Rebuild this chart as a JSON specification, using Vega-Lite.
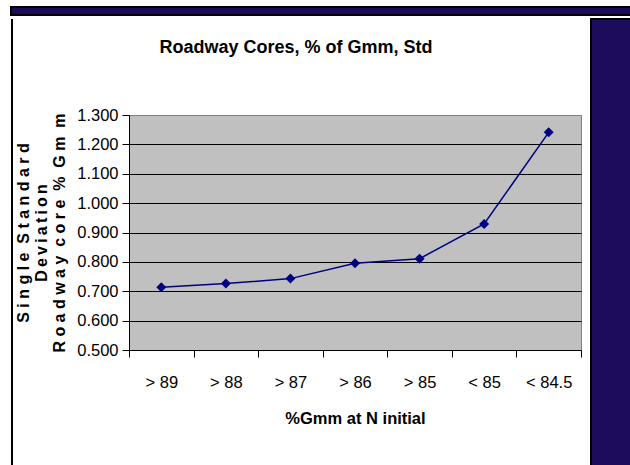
{
  "$schema": "https://vega.github.io/schema/vega-lite/v6.json",
  "background": "white",
  "padding": {"left": 9, "top": 6, "right": 0, "bottom": 0},
  "spacing": 0,
  "config": {
    "font": "Liberation Sans, Arial, sans-serif",
    "view": {"stroke": null}
  },
  "vconcat": [
    {
      "width": 621,
      "height": 8,
      "data": {"values": [{}]},
      "mark": {"type": "point", "opacity": 0},
      "encoding": {},
      "view": {"fill": "#1d0c5c", "stroke": "black", "strokeWidth": 2}
    },
    {
      "spacing": 0,
      "hconcat": [
        {
          "width": 2,
          "height": 449,
          "data": {"values": [{}]},
          "mark": {"type": "point", "opacity": 0},
          "encoding": {},
          "view": {"fill": "black", "stroke": null}
        },
        {
          "spacing": 8,
          "hconcat": [
            {
              "spacing": 15,
              "vconcat": [
                {
                  "width": 1,
                  "height": 1,
                  "data": {"values": [{}]},
                  "mark": {"type": "point", "opacity": 0},
                  "encoding": {},
                  "view": {"fill": null, "stroke": null}
                },
                {
                  "width": 452,
                  "height": 235,
                  "title": {
                    "text": "Roadway Cores, % of Gmm, Std",
                    "fontSize": 18,
                    "fontWeight": "bold",
                    "frame": "group",
                    "anchor": "middle",
                    "dx": -59,
                    "offset": 50,
                    "color": "black"
                  },
                  "view": {"fill": "#c0c0c0", "stroke": "#808080", "strokeWidth": 1},
                  "data": {
                    "values": [
                      {"cat": "> 89", "val": 0.714},
                      {"cat": "> 88", "val": 0.726},
                      {"cat": "> 87", "val": 0.743},
                      {"cat": "> 86", "val": 0.795},
                      {"cat": "> 85", "val": 0.811},
                      {"cat": "< 85", "val": 0.929},
                      {"cat": "< 84.5", "val": 1.241}
                    ]
                  },
                  "mark": {
                    "type": "line",
                    "color": "#000080",
                    "strokeWidth": 1.5,
                    "point": {"shape": "diamond", "size": 100, "filled": true, "color": "#000080"}
                  },
                  "encoding": {
                    "x": {
                      "field": "cat",
                      "type": "ordinal",
                      "sort": null,
                      "scale": {"type": "band", "paddingInner": 0, "paddingOuter": 0},
                      "axis": {
                        "title": "%Gmm at N initial",
                        "titleFontSize": 16.5,
                        "titleFontWeight": "bold",
                        "titleColor": "black",
                        "titlePadding": 20,
                        "labelAngle": 0,
                        "labelFontSize": 16.5,
                        "labelColor": "black",
                        "labelPadding": 17,
                        "tickBand": "extent",
                        "tickSize": 7,
                        "tickColor": "black",
                        "domainColor": "black",
                        "grid": false
                      }
                    },
                    "y": {
                      "field": "val",
                      "type": "quantitative",
                      "scale": {"domain": [0.5, 1.3], "nice": false, "zero": false},
                      "axis": {
                        "values": [0.5, 0.6, 0.7, 0.8, 0.9, 1.0, 1.1, 1.2, 1.3],
                        "format": ".3f",
                        "title": [
                          "S\u00a0i\u00a0n\u00a0g\u00a0l\u00a0e\u00a0\u00a0S\u00a0t\u00a0a\u00a0n\u00a0d\u00a0a\u00a0r\u00a0d",
                          "D\u2009e\u2009v\u2009i\u2009a\u2009t\u2009i\u2009o\u2009n",
                          "R\u00a0o\u00a0a\u00a0d\u00a0w\u00a0a\u00a0y\u00a0\u00a0c\u00a0o\u00a0r\u00a0e\u00a0\u00a0%\u00a0\u00a0G\u00a0m\u00a0\u00a0m"
                        ],
                        "titleFontSize": 16,
                        "titleFontWeight": "bold",
                        "titleLineHeight": 18,
                        "titleColor": "black",
                        "titlePadding": 9,
                        "labelFontSize": 16.5,
                        "labelColor": "black",
                        "labelPadding": 4,
                        "tickSize": 7,
                        "tickColor": "black",
                        "domainColor": "black",
                        "grid": true,
                        "gridColor": {"condition": {"test": "datum.value === 1.3", "value": "#808080"}, "value": "black"},
                        "gridOpacity": 1
                      }
                    }
                  }
                }
              ]
            },
            {
              "width": 40,
              "height": 449,
              "data": {"values": [{}]},
              "mark": {"type": "point", "opacity": 0},
              "encoding": {},
              "view": {"fill": "#1d0c5c", "stroke": "black", "strokeWidth": 2}
            }
          ]
        }
      ]
    }
  ]
}
